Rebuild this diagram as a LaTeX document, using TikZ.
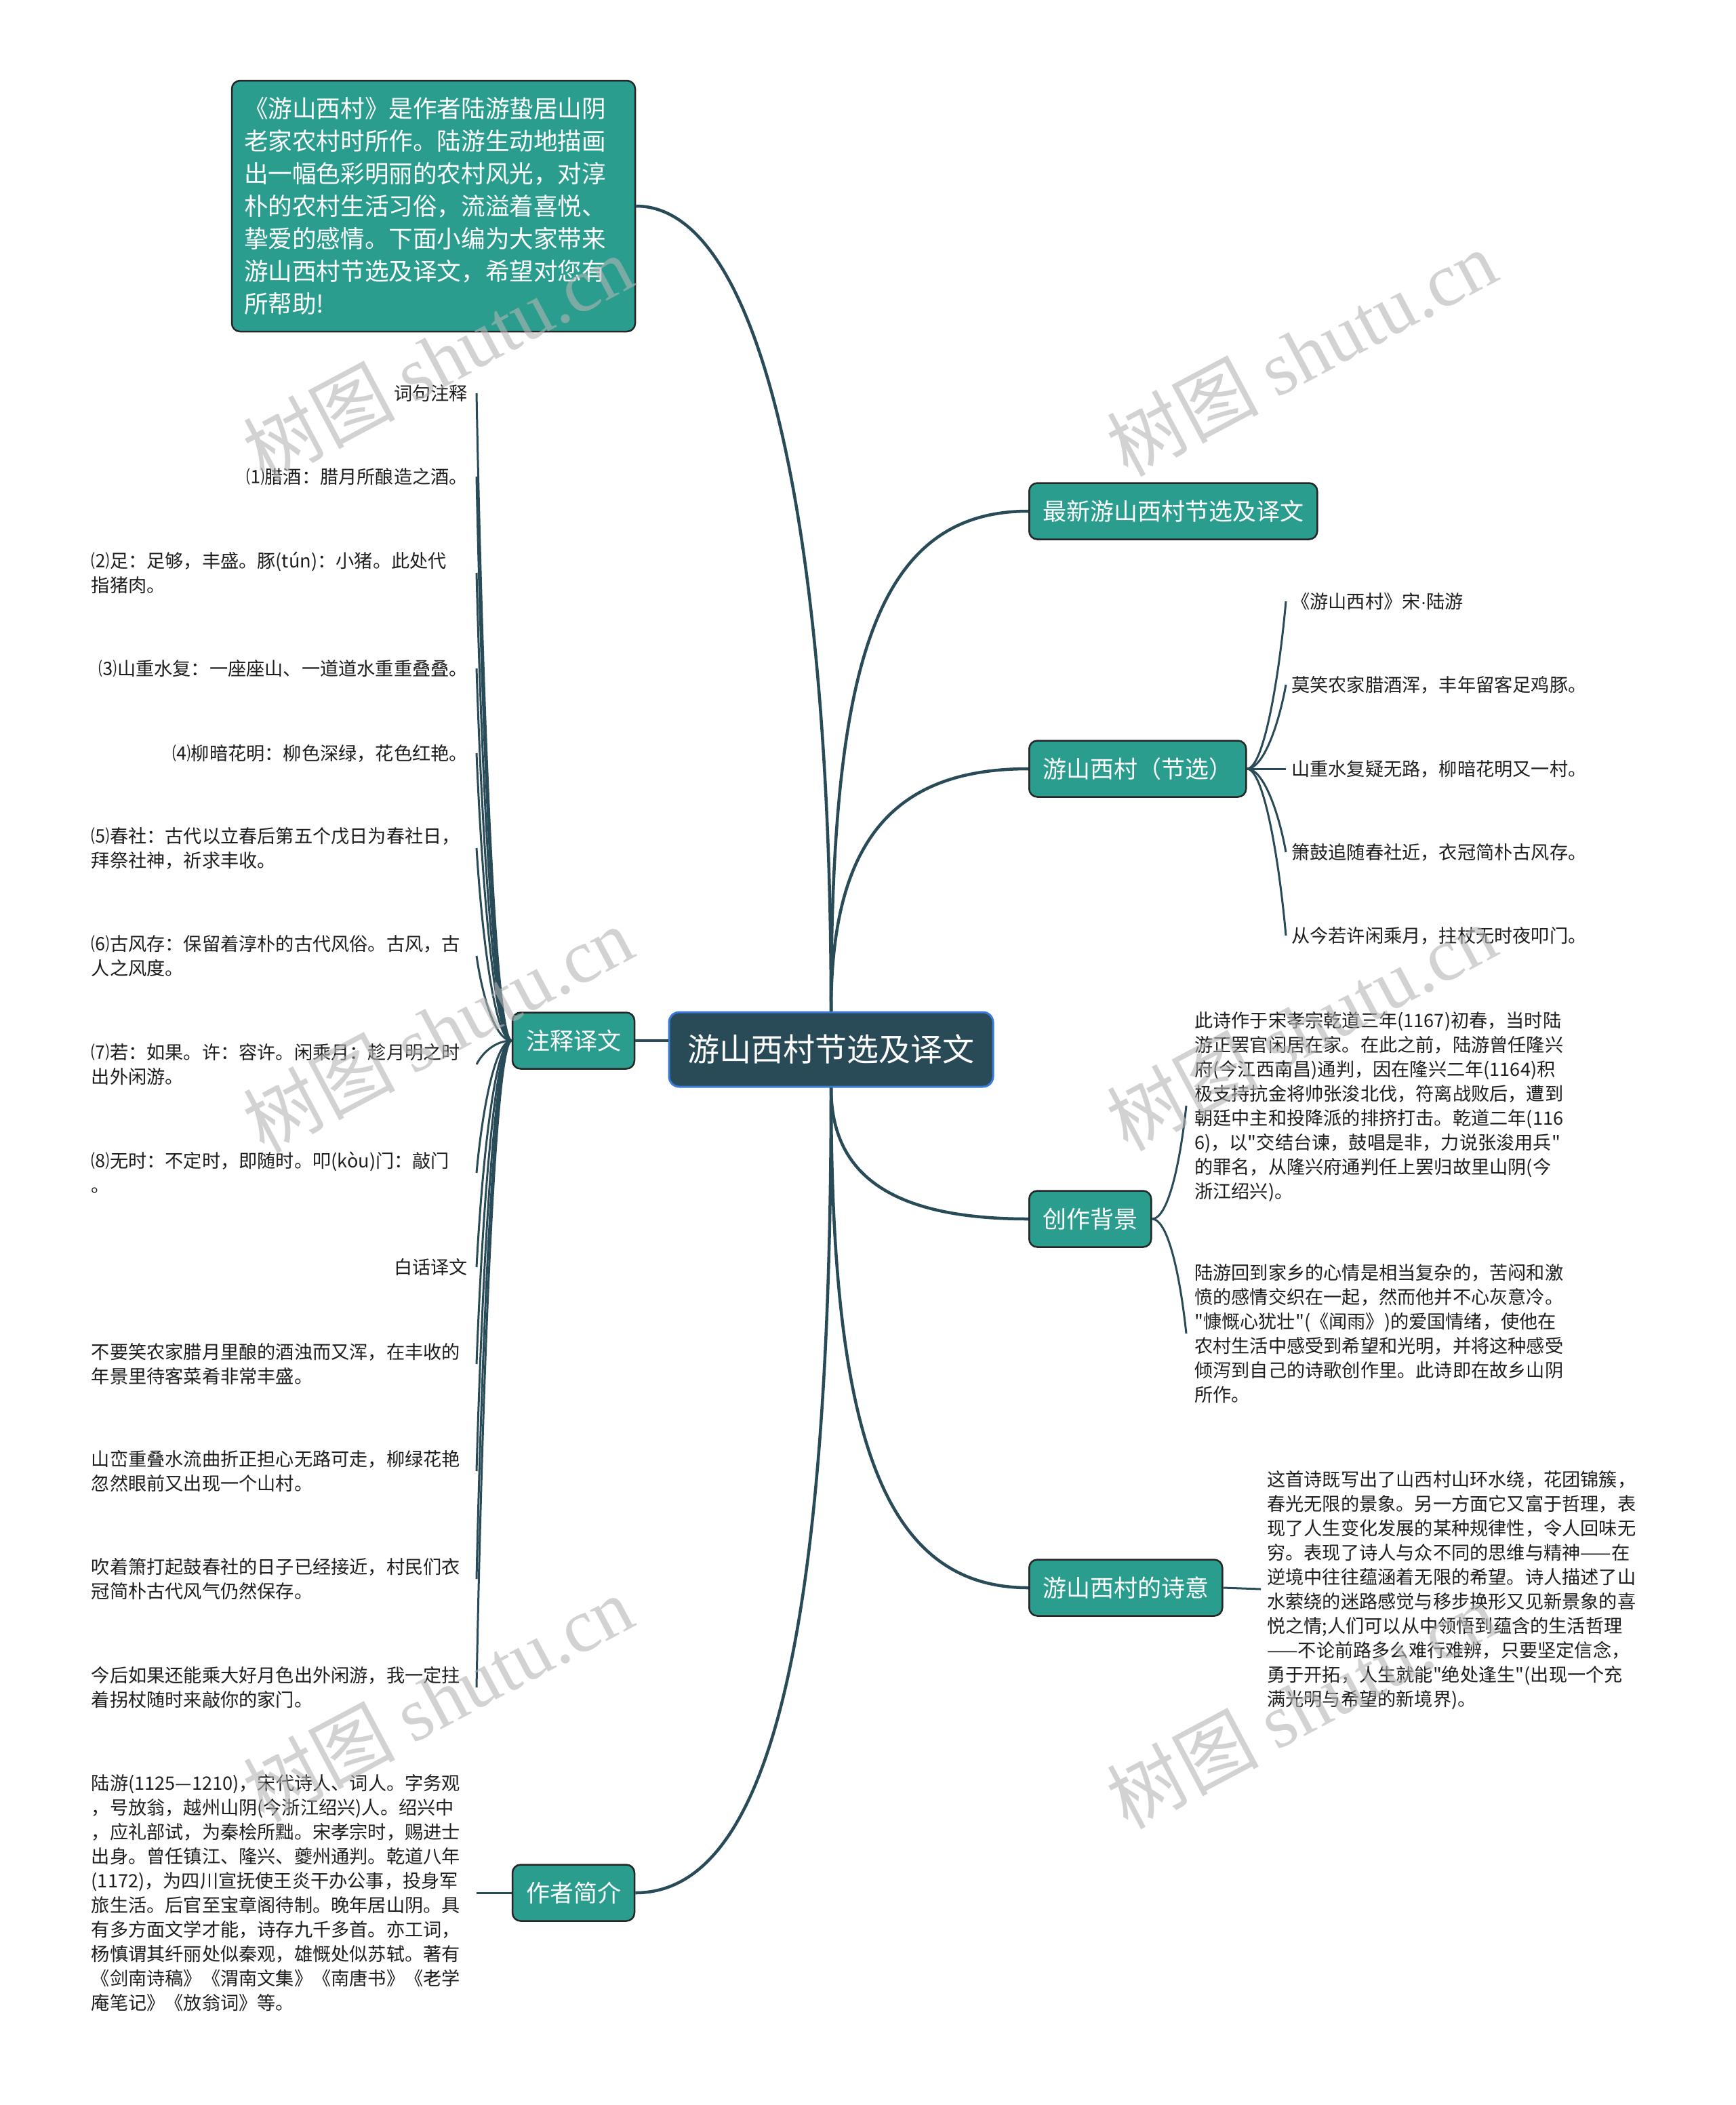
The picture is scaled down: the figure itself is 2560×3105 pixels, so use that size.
\documentclass[tikz,border=0pt]{standalone}
\usepackage{fontspec}
\setmainfont{Noto Sans CJK SC}
\newfontfamily\cjkfont{Noto Sans CJK SC}
\newfontfamily\wmlatin{Liberation Serif}
\newfontfamily\latinfont{Liberation Sans}
\definecolor{mmteal}{HTML}{2A9D8E}
\definecolor{mmdark}{HTML}{294A57}
\definecolor{mmblue}{HTML}{3A7BD5}
\definecolor{mmline}{HTML}{294A57}
\definecolor{mmtext}{HTML}{1E1E1E}
\definecolor{mmwm}{HTML}{B4B4B4}
\newcommand{\Ls}{\rule[-7.7pt]{0pt}{36pt}}
\newcommand{\Lb}{\rule[-10.7pt]{0pt}{48pt}}
\newcommand{\Lr}{\rule[-12.1pt]{0pt}{60pt}}
\tikzset{
  branchbox/.style={draw=black!85, line width=2.5pt, fill=mmteal, rounded corners=12pt,
    text=white, font=\cjkfont\fontsize{35pt}{48pt}\selectfont, minimum height=83pt,
    inner xsep=20pt, inner ysep=0pt},
  descbox/.style={draw=black!85, line width=2.5pt, fill=mmteal, rounded corners=12pt,
    text=white, font=\cjkfont\fontsize{35.6pt}{48pt}\selectfont, text width=559pt, align=left,
    minimum height=370pt, inner xsep=18pt, inner ysep=0pt},
  rootbox/.style={draw=mmblue, line width=3pt, fill=mmdark, rounded corners=15pt,
    text=white, font=\cjkfont\fontsize{47pt}{60pt}\selectfont, minimum width=478pt,
    minimum height=110pt, inner sep=0pt},
  leaf/.style={font=\cjkfont\fontsize{27.2pt}{36pt}\selectfont, text=mmtext, inner ysep=0pt, align=left},
  leftone/.style={leaf, anchor=east, inner xsep=13pt},
  leftmulti/.style={leaf, anchor=east, inner xsep=0pt, text width=568pt},
  rightleaf/.style={leaf, anchor=west, inner xsep=8pt},
  link/.style={draw=mmline, line width=4.5pt},
  twig/.style={draw=mmline, line width=3pt},
  wm/.style={text=mmwm, opacity=0.6, font=\cjkfont\fontsize{112pt}{112pt}\selectfont, rotate=28, inner sep=0pt}
}
\begin{document}
\begin{tikzpicture}[x=1pt, y=-1pt]
\fill[white] (0,0) rectangle (2560,3105);
\useasboundingbox (0,0) rectangle (2560,3105);

% root and branches
\node[rootbox] (root) at (1226,1548) {\Lr 游山西村节选及译文};
\node[descbox] (desc) at (639.5,304) {\Lb 《游山西村》是作者陆游蛰居山阴\\\Lb 老家农村时所作。陆游生动地描画\\\Lb 出一幅色彩明丽的农村风光，对淳\\\Lb 朴的农村生活习俗，流溢着喜悦、\\\Lb 挚爱的感情。下面小编为大家带来\\\Lb 游山西村节选及译文，希望对您有\\\Lb 所帮助!};
\node[branchbox, anchor=west] (zx) at (1517,754) {\Lb 最新游山西村节选及译文};
\node[branchbox, anchor=west] (jx) at (1517,1134) {\Lb 游山西村（节选）};
\node[branchbox, anchor=west] (cj) at (1517,1798) {\Lb 创作背景};
\node[branchbox, anchor=west] (sy) at (1517,2342) {\Lb 游山西村的诗意};
\node[branchbox, minimum width=180pt] (zs) at (846,1535) {\Lb 注释译文};
\node[branchbox, minimum width=180pt] (zz) at (846,2792) {\Lb 作者简介};

% main connectors
\draw[link] (root.north) .. controls +(0,-690) and +(190,0) .. (desc.east);
\draw[link] (root.north) .. controls +(0,-500) and +(-230,0) .. (zx.west);
\draw[link] (root.north) .. controls +(0,-250) and +(-200,0) .. (jx.west);
\draw[link] (root.south) .. controls +(0,130) and +(-200,0) .. (cj.west);
\draw[link] (root.south) .. controls +(0,500) and +(-220,0) .. (sy.west);
\draw[link] (root.south) .. controls +(0,800) and +(200,0) .. (zz.east);
\draw[link] (zs.east) -- (zs.east -| root.west);

% left leaves of 注释译文
\node[leftone] (l1) at (703,580) {\Ls 词句注释};
\node[leftone] (l2) at (703,703) {\Ls ⑴腊酒：腊月所酿造之酒。};
\node[leftmulti] (l3) at (703,845) {\Ls ⑵足：足够，丰盛。豚(tún)：小猪。此处代\\\Ls 指猪肉。};
\node[leftone] (l4) at (703,986) {\Ls ⑶山重水复：一座座山、一道道水重重叠叠。};
\node[leftone] (l5) at (703,1111) {\Ls ⑷柳暗花明：柳色深绿，花色红艳。};
\node[leftmulti] (l6) at (703,1251) {\Ls ⑸春社：古代以立春后第五个戊日为春社日，\\\Ls 拜祭社神，祈求丰收。};
\node[leftmulti] (l7) at (703,1410) {\Ls ⑹古风存：保留着淳朴的古代风俗。古风，古\\\Ls 人之风度。};
\node[leftmulti] (l8) at (703,1570) {\Ls ⑺若：如果。许：容许。闲乘月：趁月明之时\\\Ls 出外闲游。};
\node[leftmulti] (l9) at (703,1730) {\Ls ⑻无时：不定时，即随时。叩(kòu)门：敲门\\\Ls 。};
\node[leftone] (l10) at (703,1869) {\Ls 白话译文};
\node[leftmulti] (l11) at (703,2012) {\Ls 不要笑农家腊月里酿的酒浊而又浑，在丰收的\\\Ls 年景里待客菜肴非常丰盛。};
\node[leftmulti] (l12) at (703,2170) {\Ls 山峦重叠水流曲折正担心无路可走，柳绿花艳\\\Ls 忽然眼前又出现一个山村。};
\node[leftmulti] (l13) at (703,2329) {\Ls 吹着箫打起鼓春社的日子已经接近，村民们衣\\\Ls 冠简朴古代风气仍然保存。};
\node[leftmulti] (l14) at (703,2489) {\Ls 今后如果还能乘大好月色出外闲游，我一定拄\\\Ls 着拐杖随时来敲你的家门。};

\draw[twig] (zs.west) .. controls +(-25,0) and +(8,430) .. (l1.east);
\draw[twig] (zs.west) .. controls +(-25,0) and +(8,374) .. (l2.east);
\draw[twig] (zs.west) .. controls +(-25,0) and +(8,310) .. (l3.east);
\draw[twig] (zs.west) .. controls +(-25,0) and +(8,247) .. (l4.east);
\draw[twig] (zs.west) .. controls +(-25,0) and +(8,191) .. (l5.east);
\draw[twig] (zs.west) .. controls +(-25,0) and +(8,128) .. (l6.east);
\draw[twig] (zs.west) .. controls +(-25,0) and +(8,56) .. (l7.east);
\draw[twig] (zs.west) .. controls +(-25,0) and +(8,-16) .. (l8.east);
\draw[twig] (zs.west) .. controls +(-25,0) and +(8,-88) .. (l9.east);
\draw[twig] (zs.west) .. controls +(-25,0) and +(8,-150) .. (l10.east);
\draw[twig] (zs.west) .. controls +(-25,0) and +(8,-215) .. (l11.east);
\draw[twig] (zs.west) .. controls +(-25,0) and +(8,-286) .. (l12.east);
\draw[twig] (zs.west) .. controls +(-25,0) and +(8,-357) .. (l13.east);
\draw[twig] (zs.west) .. controls +(-25,0) and +(8,-429) .. (l14.east);

% poem leaves
\node[rightleaf] (r1) at (1897,887) {\Ls 《游山西村》宋{\latinfont ·}陆游};
\node[rightleaf] (r2) at (1897,1010) {\Ls 莫笑农家腊酒浑，丰年留客足鸡豚。};
\node[rightleaf] (r3) at (1897,1134) {\Ls 山重水复疑无路，柳暗花明又一村。};
\node[rightleaf] (r4) at (1897,1257) {\Ls 箫鼓追随春社近，衣冠简朴古风存。};
\node[rightleaf] (r5) at (1897,1380) {\Ls 从今若许闲乘月，拄杖无时夜叩门。};
\draw[twig] (jx.east) .. controls +(25,0) and +(-10,111) .. (r1.west);
\draw[twig] (jx.east) .. controls +(25,0) and +(-10,56) .. (r2.west);
\draw[twig] (jx.east) -- (r3.west);
\draw[twig] (jx.east) .. controls +(25,0) and +(-10,-56) .. (r4.west);
\draw[twig] (jx.east) .. controls +(25,0) and +(-10,-111) .. (r5.west);

% background leaves
\node[leaf, anchor=west, inner xsep=12pt] (c1) at (1750,1631) {\Ls 此诗作于宋孝宗乾道三年(1167)初春，当时陆\\\Ls 游正罢官闲居在家。在此之前，陆游曾任隆兴\\\Ls 府(今江西南昌)通判，因在隆兴二年(1164)积\\\Ls 极支持抗金将帅张浚北伐，符离战败后，遭到\\\Ls 朝廷中主和投降派的排挤打击。乾道二年(116\\\Ls 6)，以"交结台谏，鼓唱是非，力说张浚用兵"\\\Ls 的罪名，从隆兴府通判任上罢归故里山阴(今\\\Ls 浙江绍兴)。};
\node[leaf, anchor=west, inner xsep=12pt] (c2) at (1750,1967) {\Ls 陆游回到家乡的心情是相当复杂的，苦闷和激\\\Ls 愤的感情交织在一起，然而他并不心灰意冷。\\\Ls "慷慨心犹壮"(《闻雨》)的爱国情绪，使他在\\\Ls 农村生活中感受到希望和光明，并将这种感受\\\Ls 倾泻到自己的诗歌创作里。此诗即在故乡山阴\\\Ls 所作。};
\draw[twig] (cj.east) .. controls +(25,0) and +(-8,76) .. (c1.west);
\draw[twig] (cj.east) .. controls +(25,0) and +(-8,-76) .. (c2.west);

% meaning leaf
\node[leaf, anchor=west, inner xsep=9pt] (s1) at (1860,2344) {\Ls 这首诗既写出了山西村山环水绕，花团锦簇，\\\Ls 春光无限的景象。另一方面它又富于哲理，表\\\Ls 现了人生变化发展的某种规律性，令人回味无\\\Ls 穷。表现了诗人与众不同的思维与精神——在\\\Ls 逆境中往往蕴涵着无限的希望。诗人描述了山\\\Ls 水萦绕的迷路感觉与移步换形又见新景象的喜\\\Ls 悦之情;人们可以从中领悟到蕴含的生活哲理\\\Ls ——不论前路多么难行难辨，只要坚定信念，\\\Ls 勇于开拓，人生就能"绝处逢生"(出现一个充\\\Ls 满光明与希望的新境界)。};
\draw[twig] (sy.east) -- (s1.west);

% author leaf
\node[leftmulti] (a1) at (703,2792) {\Ls 陆游(1125—1210)，宋代诗人、词人。字务观\\\Ls ，号放翁，越州山阴(今浙江绍兴)人。绍兴中\\\Ls ，应礼部试，为秦桧所黜。宋孝宗时，赐进士\\\Ls 出身。曾任镇江、隆兴、夔州通判。乾道八年\\\Ls (1172)，为四川宣抚使王炎干办公事，投身军\\\Ls 旅生活。后官至宝章阁待制。晚年居山阴。具\\\Ls 有多方面文学才能，诗存九千多首。亦工词，\\\Ls 杨慎谓其纤丽处似秦观，雄慨处似苏轼。著有\\\Ls 《剑南诗稿》《渭南文集》《南唐书》《老学\\\Ls 庵笔记》《放翁词》等。};
\draw[twig] (zz.west) -- (a1.east);

% watermarks
\node[wm] (w1) at (646,528) {树图 {\wmlatin shutu.cn}};
\node[wm] (w2) at (1920,520) {树图 {\wmlatin shutu.cn}};
\node[wm] (w3) at (646,1518) {树图 {\wmlatin shutu.cn}};
\node[wm] (w4) at (1920,1515) {树图 {\wmlatin shutu.cn}};
\node[wm] (w5) at (646,2505) {树图 {\wmlatin shutu.cn}};
\node[wm] (w6) at (1920,2515) {树图 {\wmlatin shutu.cn}};
\end{tikzpicture}
\end{document}
